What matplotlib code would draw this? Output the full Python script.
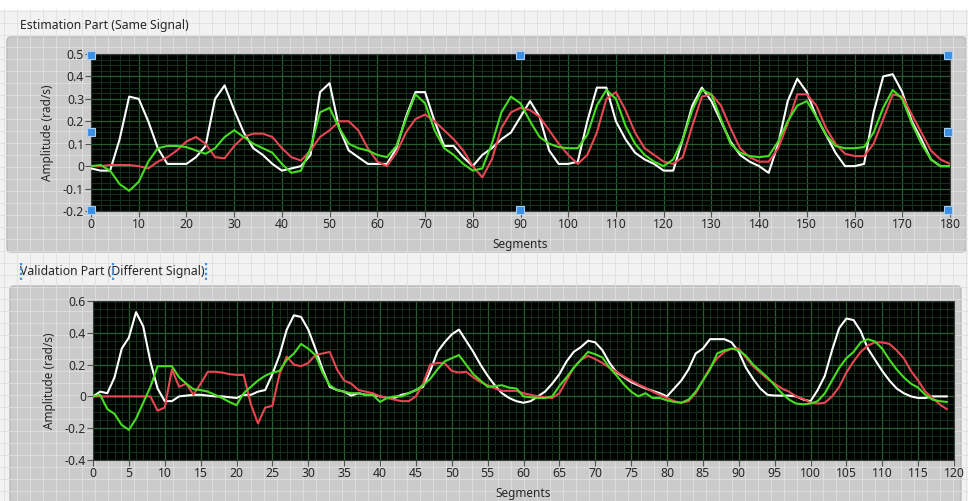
"""Two LabVIEW-style waveform graphs: estimation and validation parts."""

import matplotlib

matplotlib.use("Agg")
from matplotlib import pyplot as plt  # noqa: E402
from matplotlib.patches import FancyBboxPatch, Rectangle  # noqa: E402
from matplotlib.ticker import MultipleLocator  # noqa: E402

plt.rcParams["font.family"] = ["Noto Sans", "DejaVu Sans"]

# ---- estimation part (same signal), sampled every 2 segments ----
est_x = list(range(0, 181, 2))
est_white = [
    -0.01, -0.02, -0.02, 0.12, 0.31, 0.30, 0.20, 0.08, 0.01, 0.01,
    0.01, 0.04, 0.09, 0.30, 0.36, 0.25, 0.15, 0.08, 0.05, 0.01,
    -0.02, -0.01, 0.00, 0.05, 0.33, 0.37, 0.17, 0.07, 0.04, 0.01,
    0.01, 0.01, 0.08, 0.22, 0.33, 0.33, 0.20, 0.09, 0.09, 0.04,
    0.00, 0.05, 0.08, 0.12, 0.15, 0.22, 0.29, 0.22, 0.07, 0.01,
    0.01, 0.02, 0.20, 0.35, 0.35, 0.20, 0.12, 0.06, 0.03, 0.01,
    -0.02, -0.02, 0.12, 0.27, 0.35, 0.29, 0.20, 0.11, 0.05, 0.02,
    0.00, -0.03, 0.10, 0.29, 0.39, 0.33, 0.22, 0.14, 0.06, 0.00,
    0.00, 0.01, 0.24, 0.40, 0.41, 0.33, 0.20, 0.12, 0.03, 0.00,
    0.00,
]
est_red = [
    0.00, 0.00, 0.005, 0.005, 0.005, 0.00, -0.01, 0.02, 0.04, 0.07,
    0.11, 0.13, 0.10, 0.04, 0.035, 0.09, 0.13, 0.145, 0.145, 0.13,
    0.08, 0.04, 0.025, 0.07, 0.13, 0.16, 0.20, 0.20, 0.16, 0.08,
    0.02, 0.00, 0.06, 0.15, 0.21, 0.23, 0.20, 0.16, 0.12, 0.07,
    0.00, -0.05, 0.03, 0.17, 0.24, 0.26, 0.25, 0.22, 0.16, 0.10,
    0.05, 0.01, 0.05, 0.15, 0.30, 0.33, 0.25, 0.15, 0.08, 0.05,
    0.02, 0.01, 0.04, 0.18, 0.31, 0.32, 0.27, 0.17, 0.08, 0.04,
    0.02, 0.02, 0.08, 0.19, 0.32, 0.32, 0.27, 0.17, 0.10, 0.055,
    0.045, 0.045, 0.10, 0.21, 0.32, 0.31, 0.23, 0.15, 0.07, 0.03,
    0.01,
]
est_green = [
    0.00, 0.005, -0.02, -0.08, -0.11, -0.07, 0.02, 0.08, 0.09, 0.09,
    0.085, 0.07, 0.055, 0.08, 0.13, 0.16, 0.13, 0.10, 0.08, 0.06,
    0.01, -0.03, -0.02, 0.08, 0.24, 0.26, 0.17, 0.10, 0.08, 0.07,
    0.05, 0.04, 0.09, 0.21, 0.32, 0.28, 0.16, 0.08, 0.05, 0.01,
    -0.02, -0.01, 0.10, 0.24, 0.31, 0.28, 0.20, 0.13, 0.10, 0.085,
    0.08, 0.08, 0.14, 0.27, 0.34, 0.30, 0.18, 0.10, 0.05, 0.02,
    0.00, 0.03, 0.12, 0.25, 0.34, 0.32, 0.21, 0.10, 0.06, 0.045,
    0.04, 0.045, 0.11, 0.20, 0.27, 0.29, 0.22, 0.14, 0.09, 0.08,
    0.08, 0.085, 0.15, 0.26, 0.34, 0.30, 0.19, 0.10, 0.03, 0.00,
    0.00,
]

# ---- validation part (different signal), every segment ----
val_x = list(range(0, 120))
val_white = [
    0.00, 0.03, 0.02, 0.12, 0.30, 0.37, 0.53, 0.44, 0.22, 0.05,
    -0.03, -0.03, 0.00, 0.005, 0.01, 0.01, 0.005, 0.00, 0.00, -0.005,
    -0.01, 0.01, 0.01, 0.03, 0.04, 0.14, 0.26, 0.42, 0.51, 0.50,
    0.42, 0.30, 0.17, 0.06, 0.04, 0.03, 0.005, 0.02, 0.01, 0.01,
    0.00, -0.01, -0.01, 0.01, 0.02, 0.04, 0.06, 0.16, 0.28, 0.34,
    0.39, 0.42, 0.35, 0.28, 0.20, 0.13, 0.07, 0.02, -0.01, -0.03,
    -0.04, -0.03, 0.00, 0.03, 0.08, 0.14, 0.22, 0.28, 0.31, 0.35,
    0.34, 0.29, 0.21, 0.15, 0.12, 0.09, 0.07, 0.05, 0.035, 0.02,
    0.00, 0.05, 0.10, 0.17, 0.27, 0.30, 0.36, 0.36, 0.36, 0.34,
    0.28, 0.18, 0.11, 0.05, 0.01, 0.005, 0.005, 0.005, 0.00, -0.02,
    -0.03, 0.04, 0.13, 0.29, 0.43, 0.49, 0.48, 0.41, 0.30, 0.23,
    0.16, 0.10, 0.05, 0.02, 0.00, -0.01, -0.01, 0.00, 0.00, 0.00,
]
val_red = [
    0.00, 0.00, 0.00, 0.00, 0.00, 0.00, 0.00, 0.00, 0.00, -0.09,
    -0.07, 0.17, 0.06, 0.08, 0.01, 0.08, 0.155, 0.155, 0.15, 0.14,
    0.135, 0.135, -0.05, -0.17, -0.07, -0.06, 0.14, 0.25, 0.20, 0.19,
    0.21, 0.26, 0.27, 0.28, 0.17, 0.10, 0.08, 0.04, 0.03, 0.02,
    0.00, -0.01, -0.02, -0.03, -0.03, 0.00, 0.08, 0.20, 0.21, 0.21,
    0.16, 0.15, 0.155, 0.12, 0.09, 0.07, 0.05, 0.035, 0.035, 0.035,
    0.02, 0.01, 0.00, -0.005, -0.01, 0.02, 0.10, 0.18, 0.23, 0.255,
    0.235, 0.21, 0.18, 0.155, 0.125, 0.10, 0.075, 0.055, 0.03, 0.01,
    -0.01, -0.03, -0.04, -0.03, 0.02, 0.10, 0.18, 0.24, 0.28, 0.30,
    0.30, 0.245, 0.19, 0.15, 0.11, 0.08, 0.05, 0.03, 0.00, -0.015,
    -0.04, -0.045, -0.04, 0.00, 0.06, 0.15, 0.22, 0.28, 0.32, 0.34,
    0.34, 0.33, 0.29, 0.24, 0.16, 0.10, 0.03, -0.01, -0.05, -0.08,
]
val_green = [
    0.00, 0.01, -0.08, -0.11, -0.18, -0.21, -0.14, -0.04, 0.06, 0.19,
    0.19, 0.19, 0.12, 0.08, 0.045, 0.04, 0.03, 0.01, -0.01, -0.035,
    -0.055, 0.02, 0.06, 0.10, 0.13, 0.15, 0.16, 0.23, 0.27, 0.33,
    0.30, 0.26, 0.15, 0.07, 0.04, 0.03, 0.02, 0.02, 0.01, 0.01,
    -0.035, -0.01, 0.00, 0.00, 0.02, 0.04, 0.07, 0.11, 0.17, 0.22,
    0.24, 0.26, 0.20, 0.14, 0.10, 0.06, 0.065, 0.07, 0.055, 0.05,
    0.00, -0.005, -0.01, -0.01, 0.00, 0.065, 0.12, 0.18, 0.23, 0.28,
    0.265, 0.245, 0.18, 0.13, 0.075, 0.03, 0.00, 0.02, -0.01, -0.01,
    -0.025, -0.035, -0.04, -0.02, 0.03, 0.10, 0.17, 0.27, 0.29, 0.30,
    0.29, 0.255, 0.20, 0.16, 0.12, 0.07, 0.02, -0.02, -0.045, -0.05,
    -0.045, -0.03, 0.02, 0.10, 0.18, 0.24, 0.28, 0.34, 0.36, 0.345,
    0.30, 0.23, 0.17, 0.12, 0.08, 0.055, 0.01, -0.02, -0.03, -0.035,
]

W, H = 968, 501
LINE_COLORS = {"white": "#ffffff", "red": "#e84652", "green": "#48dc22"}
TEXT_COLOR = "#262626"
HANDLE_POSITIONS = [(91, 55), (91, 132), (91, 210), (520, 55), (520, 210),
                    (948, 55), (948, 132), (948, 210)]


def px_rect(left, top, right, bottom):
    """Pixel box (origin top-left) to a figure-fraction axes rectangle."""
    return [left / W, 1 - bottom / H, (right - left) / W, (bottom - top) / H]


def pixel_axes(fig, zorder):
    ax = fig.add_axes([0, 0, 1, 1], zorder=zorder)
    ax.set_xlim(0, W)
    ax.set_ylim(H, 0)
    ax.axis("off")
    ax.patch.set_alpha(0)
    return ax


def draw_background(fig):
    bg = pixel_axes(fig, -10)
    bg.add_patch(Rectangle((0, 0), W, H, color="#f2f2f2"))
    bg.add_patch(Rectangle((0, 0), W, 9, color="#ffffff"))
    for gx in range(4, W, 13):
        bg.plot([gx, gx], [9, H], color="#e0e0e0", lw=0.6)
    for gy in range(11, H, 12):
        bg.plot([0, W], [gy, gy], color="#e0e0e0", lw=0.6)
    for left, top, right, bottom in [(7, 37, 966, 252), (10, 286, 961, 503)]:
        bg.add_patch(
            FancyBboxPatch(
                (left, top), right - left, bottom - top,
                boxstyle="round,pad=0,rounding_size=4",
                facecolor="#cbcbcb", edgecolor="#b9b9b9", lw=1.0,
            )
        )
    return bg


def style_graph(ax, xmax, xmajor, xminor, ylim, ymajor, yminor):
    ax.set_facecolor("#000300")
    ax.set_xlim(0, xmax)
    ax.set_ylim(*ylim)
    ax.xaxis.set_major_locator(MultipleLocator(xmajor))
    ax.xaxis.set_minor_locator(MultipleLocator(xminor))
    ax.yaxis.set_major_locator(MultipleLocator(ymajor))
    ax.yaxis.set_minor_locator(MultipleLocator(yminor))
    ax.grid(which="minor", color="#14301a", lw=0.7)
    ax.grid(which="major", color="#2a5c32", lw=0.9)
    ax.set_axisbelow(True)
    ax.tick_params(which="major", direction="out", length=4, width=0.8,
                   color="#555555", labelsize=8.8, labelcolor=TEXT_COLOR, pad=1)
    ax.tick_params(which="minor", length=0)
    for spine in ax.spines.values():
        spine.set_color("#3a3a3a")
        spine.set_linewidth(0.8)
    ax.set_xlabel("Segments", fontsize=8.5, color=TEXT_COLOR, labelpad=5)
    ax.set_ylabel("Amplitude (rad/s)", fontsize=8.5, color=TEXT_COLOR, labelpad=6)


def draw_series(ax, x, white, red, green):
    ax.plot(x, white, color=LINE_COLORS["white"], lw=1.5, zorder=3)
    ax.plot(x, red, color=LINE_COLORS["red"], lw=1.5, zorder=4)
    ax.plot(x, green, color=LINE_COLORS["green"], lw=1.5, zorder=5)


fig = plt.figure(figsize=(W / 100, H / 100), dpi=100)
bg = draw_background(fig)

bg.text(20, 25, "Estimation Part (Same Signal)", fontsize=8.8, color=TEXT_COLOR,
        va="center", ha="left")
bg.text(20, 272, "Validation Part (Different Signal)", fontsize=8.8,
        color=TEXT_COLOR, va="center", ha="left")

top_ax = fig.add_axes(px_rect(91, 54, 950, 211))
style_graph(top_ax, 180, 10, 2, (-0.2, 0.5), 0.1, 0.025)
top_ax.set_yticks([0.5, 0.4, 0.3, 0.2, 0.1, 0, -0.1, -0.2])
top_ax.set_yticklabels(["0.5", "0.4", "0.3", "0.2", "0.1", "0", "-0.1", "-0.2"])
draw_series(top_ax, est_x, est_white, est_red, est_green)

bottom_ax = fig.add_axes(px_rect(93, 301, 954, 460))
style_graph(bottom_ax, 120, 5, 1, (-0.4, 0.6), 0.2, 0.05)
bottom_ax.set_yticks([0.6, 0.4, 0.2, 0, -0.2, -0.4])
bottom_ax.set_yticklabels(["0.6", "0.4", "0.2", "0", "-0.2", "-0.4"])
draw_series(bottom_ax, val_x, val_white, val_red, val_green)

# LabVIEW selection handles and label markers drawn on top
overlay = pixel_axes(fig, 20)
for hx, hy in HANDLE_POSITIONS:
    overlay.add_patch(Rectangle((hx - 4, hy - 4), 8, 8, facecolor="#3b8fe4",
                                edgecolor="#a9cff5", lw=0.8))
for mx in (21, 113, 206):
    overlay.plot([mx, mx], [263, 281], color="#3d8fe0", lw=1.6,
                 ls=(0, (1, 1.2)))

fig.savefig("out.png", dpi=100)
